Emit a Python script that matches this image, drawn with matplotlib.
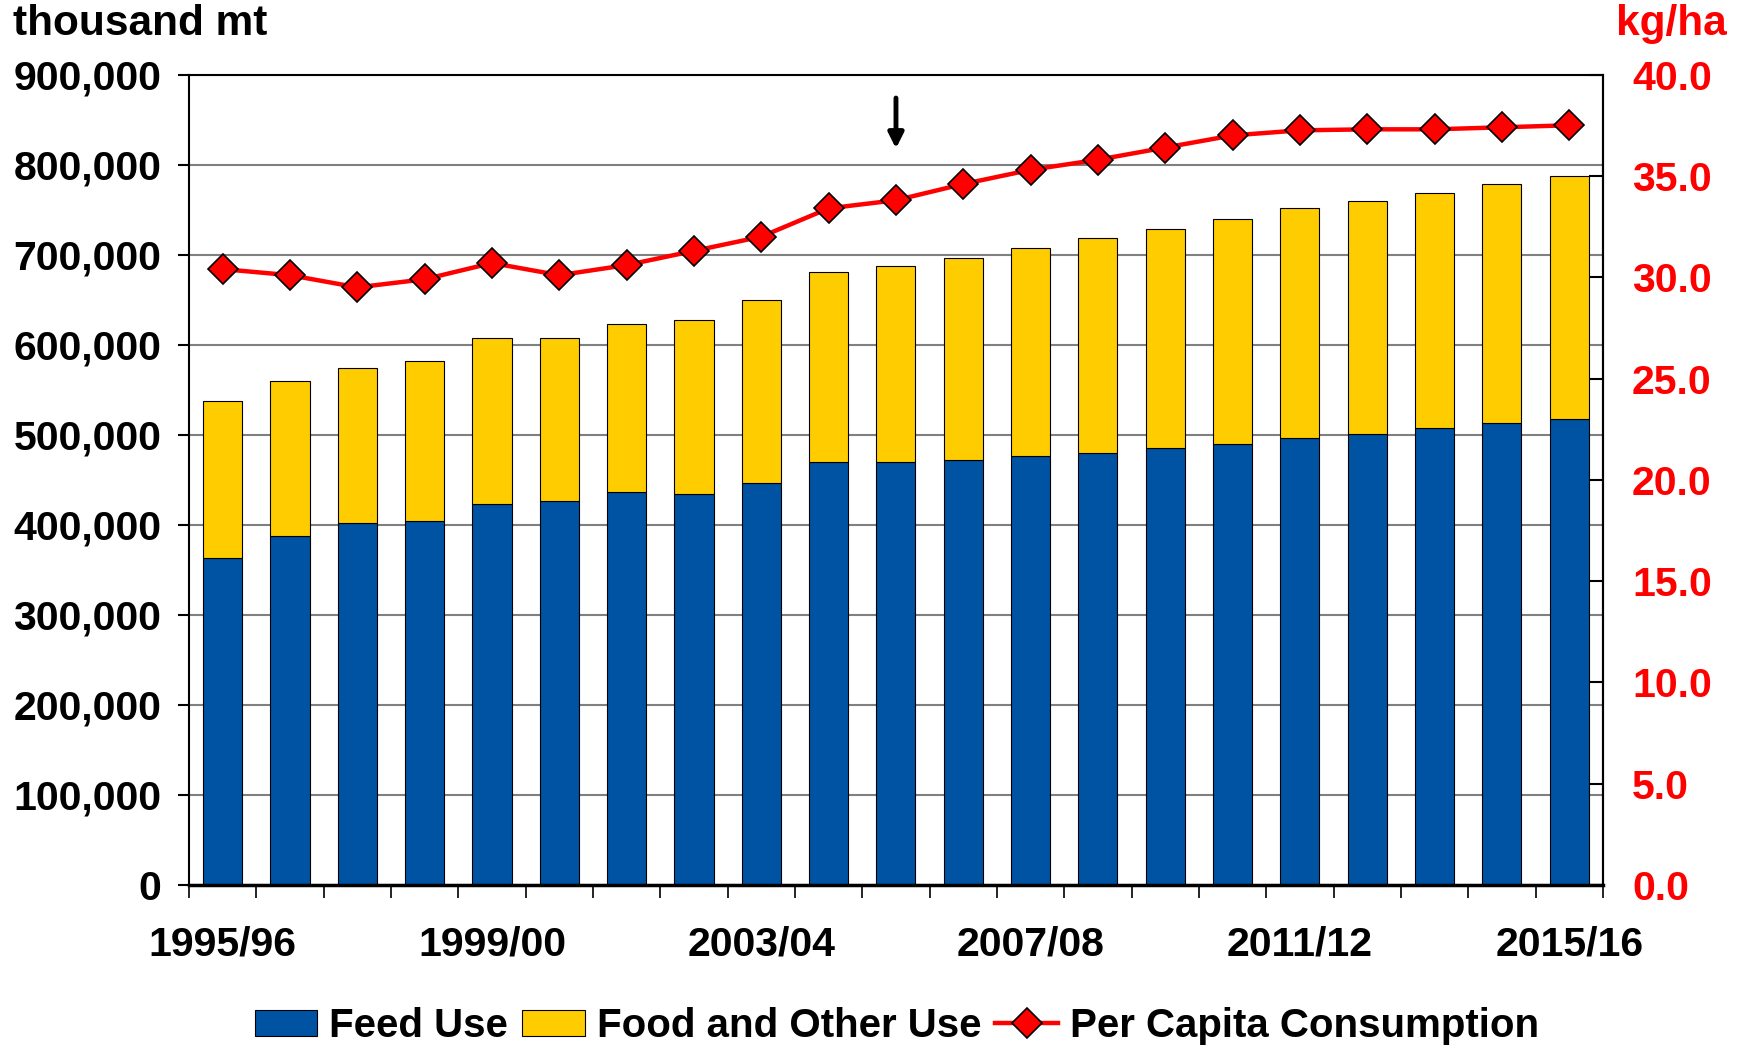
import matplotlib
matplotlib.use("Agg")
import matplotlib.pyplot as plt
import numpy as np
from matplotlib.lines import Line2D
from matplotlib.patches import Patch

plt.rcParams['font.family'] = ['Liberation Sans', 'DejaVu Sans']
plt.rcParams['font.weight'] = 'bold'

years = ["1995/96", "1996/97", "1997/98", "1998/99", "1999/00", "2000/01", "2001/02",
         "2002/03", "2003/04", "2004/05", "2005/06", "2006/07", "2007/08", "2008/09",
         "2009/10", "2010/11", "2011/12", "2012/13", "2013/14", "2014/15", "2015/16"]
feed_use = [363000, 388000, 402000, 404000, 423000, 426000, 436000, 434000, 447000, 470000,
            470000, 472000, 476000, 480000, 485000, 490000, 496000, 501000, 508000, 513000, 518000]
total_use = [537000, 560000, 574000, 582000, 607000, 608000, 623000, 627000, 650000, 681000,
             687000, 696000, 707000, 719000, 729000, 740000, 752000, 760000, 769000, 778000, 787000]
food_other = [t - f for t, f in zip(total_use, feed_use)]
per_capita = [30.4, 30.1, 29.5, 29.9, 30.7, 30.1, 30.6, 31.3, 32.0, 33.4, 33.8, 34.6,
              35.3, 35.8, 36.4, 37.0, 37.25, 37.3, 37.3, 37.4, 37.5]
label_years = ["1995/96", "1999/00", "2003/04", "2007/08", "2011/12", "2015/16"]
left_ticks = [0, 100000, 200000, 300000, 400000, 500000, 600000, 700000, 800000, 900000]
right_ticks = [0, 5, 10, 15, 20, 25, 30, 35, 40]

BLUE = "#0052A3"
YELLOW = "#FFCC00"
RED = "#FF0000"
FS = 29.5

fig = plt.figure(figsize=(17.45, 10.48), dpi=100)
ax = fig.add_axes([0.1083, 0.1555, 0.9186 - 0.1083, 0.9288 - 0.1555])
x = np.arange(len(years))

ax.set_axisbelow(True)
ax.yaxis.grid(True, color="#808080", linewidth=1.5)
ax.bar(x, feed_use, width=0.58, color=BLUE, edgecolor="black", linewidth=0.8, zorder=2)
ax.bar(x, food_other, width=0.58, bottom=feed_use, color=YELLOW, edgecolor="black",
       linewidth=0.8, zorder=2)
ax.set_xlim(-0.5, len(years) - 0.5)
ax.set_ylim(0, 900000)
ax.set_yticks(left_ticks)
ax.set_yticklabels([f"{v:,}" for v in left_ticks], fontsize=FS, fontweight='bold')
ax.tick_params(axis='y', direction='out', length=8, width=1.5, pad=12)

ax.set_xticks(np.arange(-0.5, len(years), 1.0))
ax.set_xticklabels([])
ax.tick_params(axis='x', which='major', direction='out', length=9, width=1.2)
lab_pos = [years.index(y) for y in label_years]
ax.set_xticks(lab_pos, minor=True)
ax.set_xticklabels(label_years, minor=True, fontsize=FS, fontweight='bold')
ax.tick_params(axis='x', which='minor', length=0, pad=29)

for s in ax.spines.values():
    s.set_color("black")
    s.set_linewidth(1.5)
ax.spines['bottom'].set_linewidth(2.5)

ax2 = ax.twinx()
ax2.plot(x, per_capita, color=RED, linewidth=3.2, marker='D', markersize=15,
         markerfacecolor=RED, markeredgecolor="black", markeredgewidth=1.2, zorder=5)
ax2.set_ylim(0, 40)
ax2.set_yticks(right_ticks)
ax2.set_yticklabels([f"{v:.1f}" for v in right_ticks], fontsize=FS, fontweight='bold', color=RED)
ax2.tick_params(axis='y', direction='in', length=10, width=1.5, pad=21)
for s in ax2.spines.values():
    s.set_visible(False)
ax2.spines['right'].set_visible(True)
ax2.spines['right'].set_linewidth(1.5)

ax.annotate("", xy=(10, 818000), xytext=(10, 874000),
            arrowprops=dict(arrowstyle="-|>,head_width=0.45,head_length=0.9",
                            color="black", linewidth=3.5, shrinkA=0, shrinkB=0), zorder=6)

fig.text(13 / 1745, 1 - 24 / 1048, "thousand mt", fontsize=FS + 1, fontweight='bold',
         ha='left', va='center')
fig.text(1727 / 1745, 1 - 24 / 1048, "kg/ha", fontsize=FS + 1, fontweight='bold',
         color=RED, ha='right', va='center')

handles = [Patch(facecolor=BLUE, edgecolor="black", linewidth=0.8),
           Patch(facecolor=YELLOW, edgecolor="black", linewidth=0.8),
           Line2D([0], [0], color=RED, linewidth=3.2, marker='D', markersize=15,
                  markerfacecolor=RED, markeredgecolor="black", markeredgewidth=1.2)]
fig.legend(handles, ["Feed Use", "Food and Other Use", "Per Capita Consumption"],
           loc='center', bbox_to_anchor=(0.514, 0.021), ncol=3, frameon=False,
           prop={'size': 29, 'weight': 'bold'}, handlelength=1.55, handleheight=0.6,
           handletextpad=0.3, columnspacing=0.35)

fig.savefig("out.png", dpi=100)
